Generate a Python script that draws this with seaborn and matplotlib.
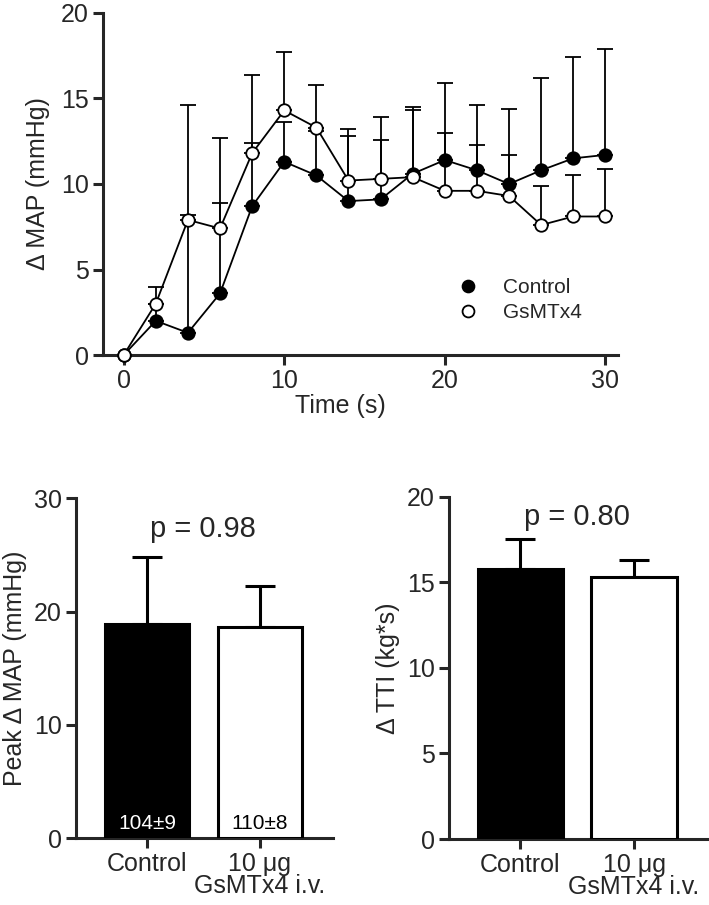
import numpy as np
import pandas as pd
import matplotlib
matplotlib.use("Agg")
import matplotlib.pyplot as plt
import seaborn as sns

sns.set_style("ticks")
plt.rcParams['font.family'] = ['Liberation Sans', 'DejaVu Sans']

# time course data
time_s = [0, 2, 4, 6, 8, 10, 12, 14, 16, 18, 20, 22, 24, 26, 28, 30]
control_map = [0, 2.0, 1.3, 3.6, 8.7, 11.3, 10.5, 9.0, 9.1, 10.6, 11.4, 10.8, 10.0, 10.8, 11.5, 11.7]
control_sem = [0, 1.0, 13.3, 5.3, 3.7, 2.3, 2.6, 3.8, 3.5, 3.9, 4.5, 3.8, 4.4, 5.4, 5.9, 6.2]
gsmtx_map = [0, 3.0, 7.9, 7.4, 11.8, 14.3, 13.3, 10.2, 10.3, 10.4, 9.6, 9.6, 9.3, 7.6, 8.1, 8.1]
gsmtx_sem = [0, 1.0, 0.3, 5.3, 4.6, 3.4, 2.5, 3.0, 3.6, 3.9, 3.4, 2.7, 2.4, 2.3, 2.4, 2.8]

# bar data
groups = ['Control', '10 \u03bcg\nGsMTx4 i.v.']
peak_map = [18.9, 18.6]
peak_map_sem = [5.9, 3.7]
baseline_txt = ['104\u00b19', '110\u00b18']
tti = [15.8, 15.3]
tti_sem = [1.7, 1.0]
p_values = ['p = 0.98', 'p = 0.80']

fig = plt.figure(figsize=(7.09, 9.05), dpi=100)
ax1 = fig.add_axes([0.145, 0.6077, 0.727, 0.378])
ax2 = fig.add_axes([0.107, 0.0737, 0.363, 0.3757])
ax3 = fig.add_axes([0.633, 0.0729, 0.3656, 0.3783])

lw = 2.2
tick_fs = 18

def style_axis(ax):
    sns.despine(ax=ax)
    for s in ['left', 'bottom']:
        ax.spines[s].set_linewidth(lw)
    ax.tick_params(width=lw, length=7, labelsize=tick_fs, direction='out', pad=3)

# ---- top: time course
df = pd.DataFrame({'Time': time_s * 2,
                   'MAP': control_map + gsmtx_map,
                   'Group': ['Control'] * len(time_s) + ['GsMTx4'] * len(time_s)})

ax1.errorbar(time_s, control_map, yerr=[np.zeros(len(time_s)), control_sem], fmt='none',
             ecolor='black', elinewidth=1.3, capsize=5.5, capthick=1.3, zorder=2, clip_on=False)
ax1.errorbar(time_s, gsmtx_map, yerr=[np.zeros(len(time_s)), gsmtx_sem], fmt='none',
             ecolor='black', elinewidth=1.3, capsize=5.5, capthick=1.3, zorder=2, clip_on=False)
sns.lineplot(data=df, x='Time', y='MAP', hue='Group', palette=['black', 'black'],
             ax=ax1, legend=False, linewidth=1.3, zorder=3)
ax1.plot(time_s, control_map, 'o', color='black', markersize=9, markeredgecolor='black',
         markeredgewidth=1.3, zorder=4, clip_on=False, label='Control')
ax1.plot(time_s, gsmtx_map, 'o', color='white', markersize=9, markeredgecolor='black',
         markeredgewidth=1.3, zorder=5, clip_on=False, label='GsMTx4')
ax1.set_xlim(-1.3, 30.8)
ax1.set_ylim(0, 20)
ax1.set_xticks([0, 10, 20, 30])
ax1.set_yticks([0, 5, 10, 15, 20])
ax1.set_xlabel('Time (s)', fontsize=tick_fs)
ax1.xaxis.set_label_coords(0.46, -0.115)
ax1.set_ylabel('\u0394 MAP (mmHg)', fontsize=tick_fs, labelpad=8)
style_axis(ax1)
leg = ax1.legend(loc='upper left', bbox_to_anchor=(0.655, 0.28), frameon=False,
                 fontsize=15, markerscale=0.95, handlelength=0.8, handletextpad=1.3,
                 labelspacing=0.3)

# ---- bottom: bar charts
def bar_panel(ax, vals, errs, ylim, yticks, ylabel, ptxt, py):
    bdf = pd.DataFrame({'g': groups, 'v': vals})
    sns.barplot(data=bdf, x='g', y='v', hue='g', palette=['black', 'white'], legend=False,
                edgecolor='black', linewidth=lw, width=0.75, ax=ax, zorder=3)
    ax.errorbar([0, 1], vals, yerr=[[0, 0], errs], fmt='none', ecolor='black',
                elinewidth=lw, capsize=11, capthick=lw, zorder=2)
    ax.set_xlim(-0.63, 1.65)
    ax.set_ylim(*ylim)
    ax.set_yticks(yticks)
    ax.set_xlabel('')
    ax.set_ylabel(ylabel, fontsize=tick_fs, labelpad=5)
    style_axis(ax)
    ax.text(0.5, py, ptxt, ha='center', va='center', fontsize=21)

bar_panel(ax2, peak_map, peak_map_sem, (0, 30), [0, 10, 20, 30], 'Peak \u0394 MAP (mmHg)',
          p_values[0], 27.3)
for i, t in enumerate(baseline_txt):
    ax2.text(i, 1.3, t, ha='center', va='center', fontsize=15,
             color='white' if i == 0 else 'black', zorder=5)

bar_panel(ax3, tti, tti_sem, (0, 20), [0, 5, 10, 15, 20], '\u0394 TTI (kg*s)',
          p_values[1], 18.8)

for ax in (ax2, ax3):
    ax.set_xticks([0, 1])
    ax.set_xticklabels(groups, fontsize=tick_fs, linespacing=0.9)

fig.savefig('out.png', dpi=100)
